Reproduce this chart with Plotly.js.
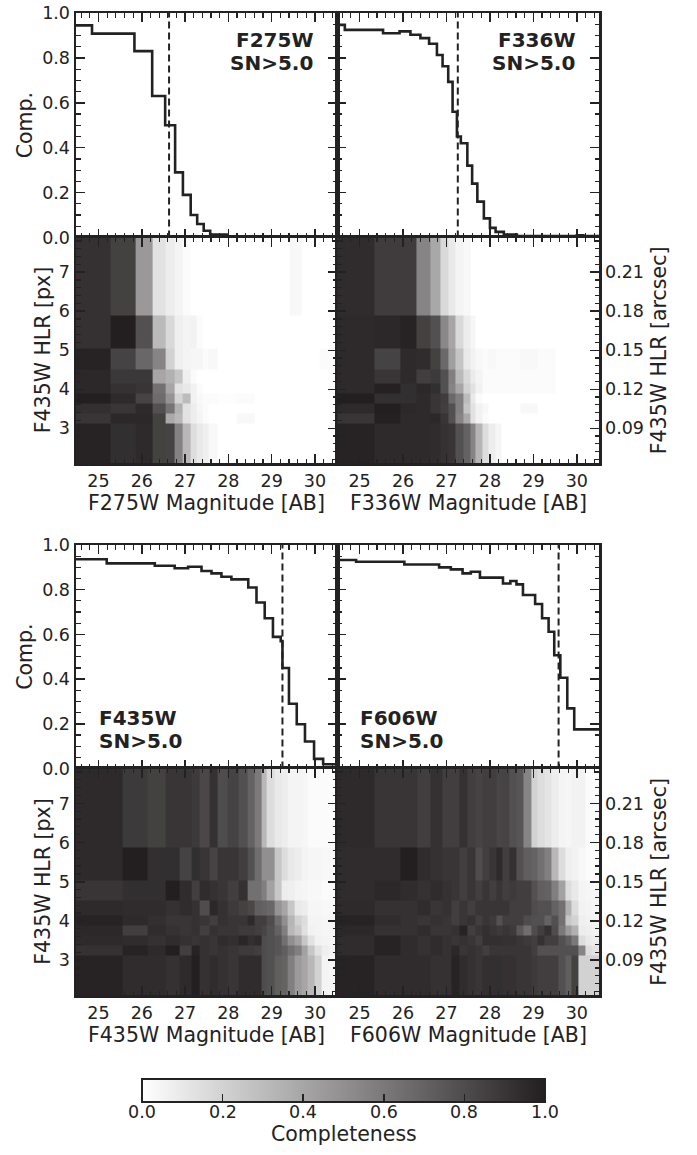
<!DOCTYPE html>
<html>
<head>
<meta charset="utf-8">
<script src="https://cdn.plot.ly/plotly-3.0.1.min.js"></script>
<style>html,body{margin:0;padding:0;background:#fff;}#chart{width:697px;height:1155px;}</style>
</head>
<body>
<div id="chart"></div>
<script>
// ---------------- DATA ----------------
const filters = ['F275W', 'F336W', 'F435W', 'F606W'];
const snLabel = 'SN>5.0';
const cutMag = [26.63, 27.26, 29.25, 29.58];   // dashed vertical lines

// Completeness step curves (left edges of bins, value in bin)
const compX_F275W = [24.47, 24.85, 25.83, 26.24, 26.54, 26.77, 26.95, 27.13, 27.28, 27.43, 27.58, 27.96, 30.51];
const compY_F275W = [0.945, 0.908, 0.83, 0.63, 0.50, 0.29, 0.19, 0.10, 0.06, 0.03, 0.013, 0.003, 0.003];
const compX_F336W = [24.49, 24.66, 25.54, 25.92, 26.17, 26.40, 26.60, 26.78, 26.91, 27.04, 27.14, 27.24, 27.33, 27.48, 27.59, 27.71, 27.86, 28.0, 28.13, 28.32, 28.62, 30.0, 30.15, 30.51];
const compY_F336W = [0.947, 0.925, 0.91, 0.918, 0.903, 0.888, 0.863, 0.813, 0.763, 0.693, 0.56, 0.45, 0.42, 0.32, 0.24, 0.16, 0.085, 0.043, 0.025, 0.013, 0.006, 0.01, 0.006, 0.006];
const compX_F435W = [24.47, 25.19, 26.30, 26.76, 27.07, 27.38, 27.61, 27.84, 28.07, 28.46, 28.65, 28.84, 29.03, 29.21, 29.25, 29.40, 29.58, 29.77, 29.98, 30.19, 30.51];
const compY_F435W = [0.936, 0.918, 0.907, 0.896, 0.903, 0.884, 0.873, 0.858, 0.846, 0.81, 0.743, 0.672, 0.589, 0.57, 0.45, 0.29, 0.198, 0.121, 0.043, 0.019, 0.019];
const compX_F606W = [24.49, 24.92, 26.03, 26.83, 27.10, 27.37, 27.56, 27.77, 28.30, 28.47, 28.61, 28.76, 29.04, 29.20, 29.35, 29.48, 29.62, 29.78, 29.94, 30.51];
const compY_F606W = [0.933, 0.925, 0.913, 0.90, 0.891, 0.873, 0.88, 0.854, 0.828, 0.839, 0.824, 0.776, 0.736, 0.672, 0.612, 0.507, 0.406, 0.269, 0.175, 0.175];

// Heat-map bins: HLR edges (px), shared
const hlrEdges = [2.11, 3.11, 3.37, 3.63, 3.89, 4.15, 4.51, 5.04, 5.88, 7.89];
const pxTicks = [3, 4, 5, 6, 7];
const arcsecTicks = ['0.09', '0.12', '0.15', '0.18', '0.21'];
const magTicks = [25, 26, 27, 28, 29, 30];
const compTicks = [0, 0.2, 0.4, 0.6, 0.8, 1.0];
const cbTicks = [0, 0.2, 0.4, 0.6, 0.8, 1.0];

// Magnitude bin edges per filter
const magEdges_F275W = [24.47, 25.29, 25.86, 26.26, 26.55, 26.76, 26.94, 27.12, 27.26, 27.41, 27.55, 27.75, 28.2, 28.6, 29.0, 29.42, 29.70, 30.1, 30.51];
const magEdges_F336W = [24.49, 25.34, 25.94, 26.30, 26.62, 26.85, 27.04, 27.21, 27.39, 27.56, 27.67, 27.82, 27.97, 28.12, 28.27, 28.7, 29.1, 29.5, 29.9, 30.51];
const magEdges_F435W = [24.47, 25.56, 26.14, 26.54, 26.88, 27.15, 27.34, 27.57, 27.76, 27.99, 28.24, 28.44, 28.61, 28.76, 28.89, 29.06, 29.22, 29.37, 29.52, 29.68, 29.84, 30.0, 30.16, 30.31, 30.51];
const magEdges_F606W = [24.49, 25.33, 25.95, 26.32, 26.62, 26.91, 27.11, 27.29, 27.48, 27.67, 27.82, 27.99, 28.14, 28.29, 28.45, 28.6, 28.78, 28.95, 29.1, 29.25, 29.41, 29.58, 29.73, 29.88, 30.03, 30.19, 30.34, 30.51];

// Completeness grids: rows bottom (small HLR) -> top (large HLR)
const heat_F275W = [
  [0.98, 0.93, 0.95, 0.85, 0.84, 0.56, 0.32, 0.15, 0.10, 0.07, 0.03, 0, 0, 0, 0, 0, 0, 0],
  [0.90, 0.96, 0.96, 0.85, 0.38, 0.32, 0.13, 0.08, 0.05, 0.02, 0, 0, 0.03, 0, 0, 0, 0, 0],
  [0.93, 0.90, 0.95, 0.78, 0.62, 0.35, 0.13, 0.08, 0.04, 0.02, 0, 0, 0, 0, 0, 0, 0, 0],
  [1.00, 0.95, 0.84, 0.66, 0.48, 0.19, 0.30, 0.06, 0.03, 0.02, 0.02, 0.01, 0.02, 0, 0, 0, 0, 0],
  [0.96, 0.92, 0.90, 0.64, 0.40, 0.13, 0.10, 0.06, 0.02, 0, 0, 0, 0, 0, 0, 0, 0, 0],
  [0.96, 0.89, 0.89, 0.40, 0.35, 0.26, 0.07, 0.02, 0, 0, 0, 0, 0, 0, 0, 0, 0, 0],
  [0.98, 0.84, 0.68, 0.55, 0.20, 0.07, 0.05, 0.04, 0.04, 0.02, 0.03, 0, 0, 0, 0, 0, 0, 0.02],
  [0.92, 1.00, 0.78, 0.31, 0.17, 0.07, 0.05, 0.06, 0.02, 0, 0, 0, 0, 0, 0, 0, 0, 0],
  [0.92, 0.85, 0.46, 0.13, 0.08, 0.05, 0.02, 0, 0, 0, 0, 0, 0, 0, 0, 0.03, 0, 0]
];
const heat_F336W = [
  [0.98, 0.95, 0.95, 0.95, 0.94, 0.92, 0.90, 0.78, 0.70, 0.55, 0.33, 0.15, 0.08, 0.04, 0, 0, 0, 0, 0],
  [0.90, 0.99, 0.95, 0.95, 0.96, 0.90, 0.78, 0.55, 0.38, 0.13, 0.06, 0.02, 0, 0, 0, 0, 0, 0, 0],
  [0.95, 1.00, 0.96, 0.95, 0.90, 0.86, 0.78, 0.57, 0.26, 0.13, 0.06, 0.03, 0, 0, 0, 0.03, 0, 0, 0],
  [1.00, 0.93, 0.93, 0.95, 0.90, 0.87, 0.67, 0.57, 0.30, 0.10, 0.02, 0, 0, 0, 0, 0, 0, 0, 0],
  [0.95, 0.99, 0.93, 0.96, 0.93, 0.78, 0.55, 0.40, 0.20, 0.13, 0.06, 0.02, 0.02, 0.02, 0.02, 0.02, 0.02, 0, 0],
  [0.95, 0.90, 0.95, 0.86, 0.88, 0.78, 0.57, 0.31, 0.17, 0.09, 0.05, 0.02, 0.02, 0.02, 0.02, 0.02, 0.02, 0, 0],
  [0.95, 0.84, 0.95, 0.94, 0.85, 0.67, 0.43, 0.26, 0.10, 0.06, 0.03, 0.02, 0.03, 0.02, 0.02, 0.03, 0.02, 0, 0],
  [0.95, 0.96, 0.98, 0.85, 0.78, 0.53, 0.40, 0.17, 0.08, 0.04, 0, 0, 0, 0, 0, 0, 0, 0, 0],
  [0.94, 0.87, 0.87, 0.55, 0.39, 0.17, 0.10, 0.05, 0.03, 0, 0, 0, 0, 0, 0, 0, 0, 0, 0]
];
const heat_F435W = [
  [0.98, 0.94, 0.94, 0.92, 0.95, 1.00, 0.92, 0.94, 0.92, 0.90, 0.94, 0.94, 0.94, 0.80, 0.78, 0.72, 0.70, 0.57, 0.45, 0.40, 0.32, 0.20, 0.05, 0.04],
  [0.92, 0.98, 0.95, 1.00, 0.86, 0.98, 0.92, 0.90, 0.92, 0.90, 0.88, 0.88, 0.86, 0.80, 0.78, 0.76, 0.72, 0.64, 0.57, 0.42, 0.25, 0.13, 0.07, 0.06],
  [0.95, 0.94, 0.92, 0.94, 0.92, 0.90, 0.92, 0.90, 0.94, 0.93, 0.97, 0.93, 0.95, 0.80, 0.78, 0.76, 0.64, 0.50, 0.42, 0.25, 0.13, 0.06, 0.05, 0.04],
  [0.96, 0.86, 0.94, 0.92, 0.90, 0.92, 0.86, 0.92, 0.90, 0.90, 0.88, 0.88, 0.86, 0.83, 0.78, 0.70, 0.57, 0.32, 0.25, 0.14, 0.06, 0.05, 0.04, 0.04],
  [0.98, 0.95, 0.93, 0.90, 0.90, 0.92, 0.90, 0.86, 0.92, 0.90, 0.90, 0.95, 0.86, 0.86, 0.80, 0.65, 0.50, 0.33, 0.20, 0.15, 0.05, 0.05, 0.04, 0.04],
  [0.95, 0.94, 0.94, 0.92, 0.94, 0.92, 0.80, 0.96, 0.92, 0.88, 0.85, 0.82, 0.72, 0.70, 0.68, 0.48, 0.40, 0.25, 0.10, 0.08, 0.04, 0.04, 0.03, 0.03],
  [0.90, 0.93, 0.93, 1.00, 0.94, 0.86, 0.94, 0.92, 0.90, 0.86, 0.92, 0.64, 0.64, 0.57, 0.42, 0.25, 0.08, 0.07, 0.05, 0.04, 0.03, 0.03, 0.02, 0.02],
  [0.95, 1.00, 0.93, 0.93, 0.84, 0.93, 0.90, 0.84, 0.90, 0.90, 0.86, 0.78, 0.65, 0.50, 0.50, 0.25, 0.15, 0.10, 0.08, 0.05, 0.04, 0.04, 0.03, 0.03],
  [0.95, 0.88, 0.85, 0.90, 0.90, 0.88, 0.82, 0.92, 0.80, 0.84, 0.78, 0.70, 0.60, 0.32, 0.15, 0.10, 0.08, 0.05, 0.05, 0.04, 0.02, 0.02, 0.02, 0.01]
];
const heat_F606W = [
  [0.98, 0.94, 0.94, 0.94, 0.92, 0.92, 0.98, 0.94, 0.92, 0.90, 0.93, 0.93, 0.93, 0.92, 0.92, 0.90, 0.90, 0.88, 0.86, 0.86, 0.86, 0.78, 0.72, 0.85, 0.20, 0.20, 0.20],
  [0.94, 0.98, 0.94, 0.92, 0.94, 0.92, 0.96, 0.90, 0.92, 0.90, 0.86, 0.90, 0.90, 0.90, 0.90, 0.90, 0.90, 0.86, 0.78, 0.78, 0.78, 0.78, 0.78, 0.78, 0.55, 0.15, 0.12],
  [0.94, 0.98, 0.94, 0.92, 0.94, 0.92, 0.90, 0.92, 0.90, 0.86, 0.93, 0.93, 0.93, 0.92, 0.92, 0.90, 0.88, 0.86, 0.92, 0.86, 0.86, 0.78, 0.72, 0.60, 0.15, 0.10, 0.08],
  [0.96, 0.92, 0.92, 0.94, 0.90, 0.90, 0.92, 0.98, 0.86, 0.90, 0.93, 0.90, 0.88, 0.90, 0.88, 0.75, 0.65, 0.80, 0.86, 0.92, 0.80, 0.60, 0.45, 0.35, 0.08, 0.07, 0.06],
  [0.98, 0.94, 0.92, 0.90, 0.92, 0.90, 0.86, 0.90, 0.92, 0.86, 0.90, 0.88, 0.78, 0.86, 0.86, 0.86, 0.80, 0.78, 0.78, 0.70, 0.78, 0.64, 0.25, 0.20, 0.07, 0.06, 0.05],
  [0.95, 0.92, 0.92, 0.94, 0.90, 0.92, 0.86, 0.90, 0.86, 0.90, 0.90, 0.90, 0.90, 0.90, 0.86, 0.86, 0.86, 0.80, 0.78, 0.78, 0.70, 0.64, 0.35, 0.15, 0.06, 0.05, 0.04],
  [0.94, 0.96, 0.94, 0.92, 0.94, 0.92, 0.90, 0.86, 0.90, 0.86, 0.90, 0.86, 0.90, 0.86, 0.88, 0.86, 0.86, 0.78, 0.72, 0.70, 0.57, 0.42, 0.15, 0.10, 0.05, 0.04, 0.04],
  [0.94, 0.94, 1.00, 0.94, 0.92, 0.90, 0.90, 0.86, 0.90, 0.80, 0.86, 0.90, 0.95, 0.86, 0.92, 0.78, 0.72, 0.70, 0.64, 0.57, 0.32, 0.15, 0.07, 0.06, 0.03, 0.02, 0.02],
  [0.95, 0.90, 0.90, 0.86, 0.92, 0.86, 0.86, 0.92, 0.86, 0.84, 0.86, 0.86, 0.83, 0.84, 0.78, 0.76, 0.55, 0.20, 0.15, 0.12, 0.08, 0.05, 0.04, 0.06, 0.06, 0.02, 0.02]
];

// Text
const compTitle = 'Comp.';
const hlrPxTitle = 'F435W HLR [px]';
const hlrArcTitle = 'F435W HLR [arcsec]';
const cbTitle = 'Completeness';

// ---------------- LAYOUT HELPERS ----------------
const W = 697, H = 1155;
const fx = v => v / W;
const fy = v => 1 - v / H;
const FONT = 'DejaVu Sans, Liberation Sans, sans-serif';
const INK = '#222222';
const colBox = [[76, 337], [337, 599]];
const rowBox = [[13, 237.5], [237.5, 463], [545, 768.5], [768.5, 995]]; // compTop, heatTop, compBot, heatBot
const xRange = [24.48, 30.51];
const cbBox = [142, 545];   // colour-bar horizontal extent (px)

const compXs = [compX_F275W, compX_F336W, compX_F435W, compX_F606W];
const compYs = [compY_F275W, compY_F336W, compY_F435W, compY_F606W];
const magEdges = [magEdges_F275W, magEdges_F336W, magEdges_F435W, magEdges_F606W];
const heats = [heat_F275W, heat_F336W, heat_F435W, heat_F606W];

const colorscale = [[0, '#ffffff'], [1, '#231f20']];

function baseAxis() {
  return {
    showline: true, linewidth: 2.5, linecolor: INK, mirror: 'ticks',
    ticks: 'inside', ticklen: 9, tickwidth: 1.5, tickcolor: INK,
    showgrid: false, zeroline: false, fixedrange: true,
    tickfont: {family: FONT, size: 17.5, color: INK}
  };
}

const traces = [];
const layout = {
  width: W, height: H,
  margin: {l: 0, r: 0, t: 0, b: 0},
  paper_bgcolor: '#ffffff', plot_bgcolor: '#ffffff',
  showlegend: false,
  font: {family: FONT, color: INK},
  annotations: []
};
const titleFont = {family: FONT, size: 20.5, color: INK};
const tickFont = {family: FONT, size: 17.5, color: INK};

filters.forEach((f, i) => {
  const col = i % 2;                 // 0 left, 1 right
  const grp = Math.floor(i / 2);     // 0 top, 1 bottom
  const compRow = rowBox[grp * 2], heatRow = rowBox[grp * 2 + 1];
  const cx = colBox[col];
  const nComp = i * 2 + 1, nHeat = i * 2 + 2;
  const xc = 'x' + (nComp === 1 ? '' : nComp), yc = 'y' + (nComp === 1 ? '' : nComp);
  const xh = 'x' + nHeat, yh = 'y' + nHeat;
  const xDom = [fx(cx[0]), fx(cx[1])];

  // completeness axes
  layout['xaxis' + (nComp === 1 ? '' : nComp)] = Object.assign(baseAxis(), {
    domain: xDom, anchor: yc, range: xRange, dtick: 1, tick0: 0, showticklabels: false,
    minor: {dtick: 0.2, tick0: 0, ticks: 'inside', ticklen: 4.5, tickwidth: 1.2, tickcolor: INK, showgrid: false}
  });
  layout['yaxis' + (nComp === 1 ? '' : nComp)] = Object.assign(baseAxis(), {
    domain: [fy(compRow[1]), fy(compRow[0])], anchor: xc, range: [0, 1],
    tickmode: 'array', tickvals: compTicks, ticktext: compTicks.map(v => v.toFixed(1)),
    showticklabels: col === 0,
    minor: {dtick: 0.05, tick0: 0, ticks: 'inside', ticklen: 4.5, tickwidth: 1.2, tickcolor: INK, showgrid: false}
  });
  // heat axes
  layout['xaxis' + nHeat] = Object.assign(baseAxis(), {
    domain: xDom, anchor: yh, range: xRange,
    tickmode: 'array', tickvals: magTicks, ticktext: magTicks.map(String), showticklabels: true,
    minor: {dtick: 0.2, tick0: 0, ticks: 'inside', ticklen: 4.5, tickwidth: 1.2, tickcolor: INK, showgrid: false}
  });
  layout['yaxis' + nHeat] = Object.assign(baseAxis(), {
    domain: [fy(heatRow[1]), fy(heatRow[0])], anchor: xh, range: [hlrEdges[0], hlrEdges[hlrEdges.length - 1]],
    tickmode: 'array', tickvals: pxTicks,
    ticktext: col === 0 ? pxTicks.map(String) : arcsecTicks,
    side: col === 0 ? 'left' : 'right',
    showticklabels: true,
    minor: {dtick: 0.2, tick0: 0, ticks: 'inside', ticklen: 4.5, tickwidth: 1.2, tickcolor: INK, showgrid: false}
  });

  // heatmap
  const hm = {
    type: 'heatmap', x: magEdges[i], y: hlrEdges, z: heats[i],
    xaxis: xh, yaxis: yh, zmin: 0, zmax: 1, colorscale: colorscale,
    showscale: false, hoverinfo: 'skip', zsmooth: false
  };
  if (i === 0) {
    hm.showscale = true;
    hm.colorbar = {
      orientation: 'h', x: fx((cbBox[0] + cbBox[1]) / 2), xanchor: 'center',
      y: fy(1079), yanchor: 'top', len: (cbBox[1] - cbBox[0]) / W, lenmode: 'fraction',
      thickness: 23, thicknessmode: 'pixels', outlinewidth: 2, outlinecolor: INK,
      xpad: 0, ypad: 0,
      ticks: 'inside', ticklen: 9, tickwidth: 1.5, tickcolor: INK,
      tickmode: 'array', tickvals: cbTicks, showticklabels: false
    };
  }
  traces.push(hm);

  // completeness step curve
  traces.push({
    type: 'scatter', mode: 'lines', x: compXs[i], y: compYs[i],
    xaxis: xc, yaxis: yc, line: {shape: 'hv', color: INK, width: 2.6}, hoverinfo: 'skip'
  });
  // dashed limit
  traces.push({
    type: 'scatter', mode: 'lines', x: [cutMag[i], cutMag[i]], y: [0, 1],
    xaxis: xc, yaxis: yc, line: {color: INK, width: 2, dash: '7px,4px'}, hoverinfo: 'skip'
  });

  // filter labels
  const bold = {family: FONT, size: 20, color: INK, weight: 'bold'};
  if (grp === 0) {
    const xr = col === 0 ? 315 : 577;
    layout.annotations.push({xref: 'paper', yref: 'paper', x: fx(xr), y: fy(40), xanchor: 'right', yanchor: 'middle', text: '<b>' + f + '</b>', showarrow: false, font: bold});
    layout.annotations.push({xref: 'paper', yref: 'paper', x: fx(xr), y: fy(63), xanchor: 'right', yanchor: 'middle', text: '<b>' + snLabel + '</b>', showarrow: false, font: bold});
  } else {
    const xl = col === 0 ? 97 : 358;
    layout.annotations.push({xref: 'paper', yref: 'paper', x: fx(xl), y: fy(718), xanchor: 'left', yanchor: 'middle', text: '<b>' + f + '</b>', showarrow: false, font: bold});
    layout.annotations.push({xref: 'paper', yref: 'paper', x: fx(xl), y: fy(741), xanchor: 'left', yanchor: 'middle', text: '<b>' + snLabel + '</b>', showarrow: false, font: bold});
  }

  // x axis title
  const xtY = grp === 0 ? 503 : 1035;
  layout.annotations.push({xref: 'paper', yref: 'paper', x: fx((cx[0] + cx[1]) / 2), y: fy(xtY), xanchor: 'center', yanchor: 'middle', text: f + ' Magnitude [AB]', showarrow: false, font: titleFont});

  // y axis titles
  const heatMid = (heatRow[0] + heatRow[1]) / 2;
  const compMid = (compRow[0] + compRow[1]) / 2;
  if (col === 0) {
    layout.annotations.push({xref: 'paper', yref: 'paper', x: fx(25), y: fy(compMid), xanchor: 'center', yanchor: 'middle', textangle: -90, text: compTitle, showarrow: false, font: titleFont});
    layout.annotations.push({xref: 'paper', yref: 'paper', x: fx(43), y: fy(heatMid), xanchor: 'center', yanchor: 'middle', textangle: -90, text: hlrPxTitle, showarrow: false, font: titleFont});
  } else {
    layout.annotations.push({xref: 'paper', yref: 'paper', x: fx(659), y: fy(heatMid), xanchor: 'center', yanchor: 'middle', textangle: -90, text: hlrArcTitle, showarrow: false, font: titleFont});
  }
});

// colour-bar tick labels (placed along the colour-bar span) and title
cbTicks.forEach(v => {
  layout.annotations.push({xref: 'paper', yref: 'paper', x: fx(cbBox[0] + v * (cbBox[1] - cbBox[0])), y: fy(1112), xanchor: 'center', yanchor: 'middle', text: v.toFixed(1), showarrow: false, font: tickFont});
});
layout.annotations.push({xref: 'paper', yref: 'paper', x: fx((cbBox[0] + cbBox[1]) / 2), y: fy(1134), xanchor: 'center', yanchor: 'middle', text: cbTitle, showarrow: false, font: titleFont});

Plotly.newPlot('chart', traces, layout, {staticPlot: true, displayModeBar: false});
</script>
</body>
</html>
